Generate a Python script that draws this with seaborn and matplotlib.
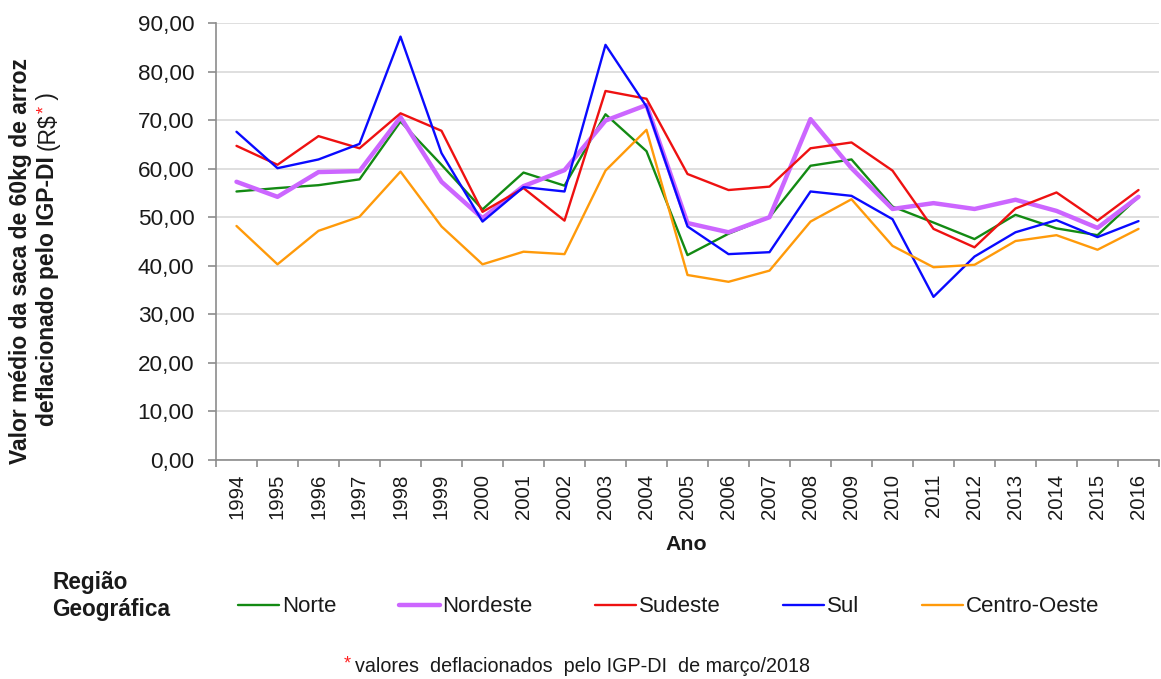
import numpy as np
import pandas as pd
import matplotlib
matplotlib.use("Agg")
import matplotlib.pyplot as plt
import seaborn as sns
from matplotlib.ticker import FixedLocator, FuncFormatter

anos = list(range(1994, 2017))
norte = [55.3, 56.0, 56.6, 57.8, 69.7, 60.8, 51.6, 59.2, 56.5, 71.2, 63.6, 42.2,
         46.6, 50.0, 60.6, 61.9, 52.2, 48.9, 45.5, 50.5, 47.7, 46.3, 54.2]
nordeste = [57.3, 54.2, 59.3, 59.5, 70.6, 57.3, 49.8, 56.4, 59.7, 69.9, 73.1, 48.8,
            46.9, 50.0, 70.2, 60.1, 51.7, 52.9, 51.7, 53.6, 51.3, 47.8, 54.2]
sudeste = [64.7, 60.8, 66.7, 64.2, 71.4, 67.8, 51.1, 56.0, 49.3, 76.0, 74.4, 58.9,
           55.6, 56.3, 64.2, 65.4, 59.6, 47.6, 43.8, 51.8, 55.1, 49.3, 55.6]
sul = [67.6, 60.1, 61.9, 65.1, 87.2, 63.2, 49.1, 56.2, 55.3, 85.5, 72.8, 48.1,
       42.4, 42.8, 55.3, 54.4, 49.6, 33.6, 41.9, 46.9, 49.4, 45.9, 49.2]
centro_oeste = [48.2, 40.3, 47.2, 50.1, 59.4, 48.1, 40.3, 42.9, 42.4, 59.6, 68.0, 38.1,
                36.7, 39.0, 49.1, 53.7, 44.1, 39.7, 40.2, 45.1, 46.3, 43.3, 47.6]
regioes = ["Norte", "Nordeste", "Sudeste", "Sul", "Centro-Oeste"]
cores = ["#138a13", "#cc66ff", "#ee1111", "#0a0aff", "#ff9a0a"]
yticks = [0, 10, 20, 30, 40, 50, 60, 70, 80, 90]

series = [norte, nordeste, sudeste, sul, centro_oeste]
df = pd.concat([pd.DataFrame({"Ano": anos, "Valor": v, "Região": r})
                for r, v in zip(regioes, series)], ignore_index=True)

sns.set_style("white")
plt.rcParams["font.family"] = ["Liberation Sans", "DejaVu Sans"]
TXT = "#1a1a1a"

W, H = 1161, 679
fig = plt.figure(figsize=(W / 100, H / 100), dpi=100)
ax = fig.add_axes([216 / W, 1 - 460 / H, (1159 - 216) / W, (460 - 23) / H])

palette = dict(zip(regioes, cores))
sizes = {r: (3.2 if r == "Nordeste" else 1.7) for r in regioes}
sns.lineplot(data=df, x="Ano", y="Valor", hue="Região", size="Região",
             palette=palette, sizes=sizes, hue_order=regioes, size_order=regioes,
             ax=ax, legend=True)
handles, labels = ax.get_legend_handles_labels()
ax.get_legend().remove()

ax.set_xlim(anos[0] - 0.5, anos[-1] + 0.5)
ax.set_ylim(0, 90)
ax.set_yticks(yticks)
ax.yaxis.set_major_formatter(FuncFormatter(lambda v, p: f"{v:.2f}".replace(".", ",")))
ax.set_xticks(anos)
ax.set_xticklabels([str(a) for a in anos], rotation=90)
ax.xaxis.set_minor_locator(FixedLocator([a - 0.5 for a in anos] + [anos[-1] + 0.5]))
ax.tick_params(axis="x", which="major", length=0, pad=10, labelsize=14.7, labelcolor=TXT)
ax.tick_params(axis="x", which="minor", length=5, width=1.2, color="#8c8c8c", direction="out", bottom=True)
ax.tick_params(axis="y", length=6, width=1.2, color="#8c8c8c", direction="out", left=True,
               pad=9.5, labelsize=16.2, labelcolor=TXT)

ax.grid(axis="y", color="#d9d9d9", linewidth=1.2)
ax.grid(axis="x", visible=False)
ax.set_axisbelow(True)
for s in ["top", "right"]:
    ax.spines[s].set_visible(False)
for s in ["left", "bottom"]:
    ax.spines[s].set_color("#8c8c8c")
    ax.spines[s].set_linewidth(1.2)
ax.set_xlabel("")
ax.set_ylabel("")

# x axis title
fig.text(686 / W, 1 - 545 / H, "Ano", ha="center", va="center", fontsize=15.4,
         fontweight="bold", color=TXT)

# y axis title (two lines, mixed styles)
fig.text(21 / W, 1 - 261 / H, "Valor médio da saca de 60kg de arroz", rotation=90,
         ha="center", va="center", fontsize=16.5, fontweight="bold", color=TXT)
t1 = fig.text(48 / W, 1 - 426 / H, "deflacionado pelo IGP-DI ", rotation=90,
              ha="center", va="bottom", fontsize=16.5, fontweight="bold", color=TXT)
t2 = ax.annotate("(R$", xycoords=t1, xy=(0, 1), va="bottom", ha="left",
                 rotation=90, fontsize=16.5, color=TXT, annotation_clip=False)
t3 = ax.annotate("*", xycoords=t2, xy=(0, 1), va="bottom", ha="left",
                 rotation=90, fontsize=13, color="#ff2020", annotation_clip=False)
t4 = ax.annotate(" )", xycoords=(t2, t3), xy=(0, 1), va="bottom", ha="left",
                 rotation=90, fontsize=16.5, color=TXT, annotation_clip=False)

# legend
fig.text(52 / W, 1 - 596 / H, "Região\nGeográfica", ha="left", va="center",
         fontsize=16.3, fontweight="bold", color=TXT, linespacing=1.2)
leg = fig.legend(handles, labels, loc="center left", bbox_to_anchor=(238 / W, 1 - 607 / H),
                 ncol=5, frameon=False, fontsize=16, handlelength=1.85, handletextpad=0.13,
                 columnspacing=2.8, borderaxespad=0, borderpad=0)
for t in leg.get_texts():
    t.set_color(TXT)

# footnote
fig.text(351 / W, 1 - 664 / H, "*", ha="right", va="center", fontsize=13,
         color="#ff2020")
fig.text(355 / W, 1 - 667 / H, "valores  deflacionados  pelo IGP-DI  de março/2018",
         ha="left", va="center", fontsize=14.2, color=TXT)

fig.savefig("out.png", dpi=100, facecolor="white")
